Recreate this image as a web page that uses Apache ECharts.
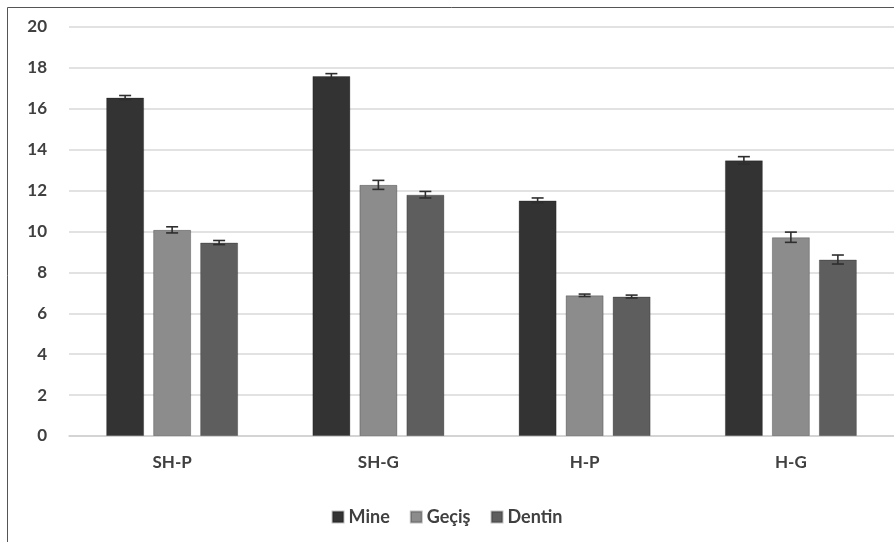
<!DOCTYPE html>
<html><head><meta charset="utf-8">
<script src="https://cdn.jsdelivr.net/npm/echarts@6/dist/echarts.min.js"></script>
<style>html,body{margin:0;padding:0;background:#fff}#c{width:894px;height:542px}</style>
</head><body><div id="c"></div>
<script>
const categories = ['SH-P', 'SH-G', 'H-P', 'H-G'];
const seriesNames = ['Mine', 'Geçiş', 'Dentin'];
const mineValues = [16.55, 17.6, 11.52, 13.48];
const gecisValues = [10.08, 12.28, 6.88, 9.72];
const dentinValues = [9.46, 11.8, 6.82, 8.63];
const mineErrors = [0.1, 0.12, 0.12, 0.18];
const gecisErrors = [0.15, 0.22, 0.06, 0.25];
const dentinErrors = [0.1, 0.16, 0.07, 0.22];
const yTicks = [0, 2, 4, 6, 8, 10, 12, 14, 16, 18, 20];

const colors = ['#333333', '#8c8c8c', '#5e5e5e'];
const values = [mineValues, gecisValues, dentinValues];
const errors = [mineErrors, gecisErrors, dentinErrors];
const BAR_W = 38, GAP = 9;
const fontFamily = "Lato, 'Open Sans', sans-serif";

const chart = echarts.init(document.getElementById('c'), null, {renderer: 'canvas'});
const series = [];
seriesNames.forEach((name, i) => {
  series.push({
    name: name, type: 'bar', data: values[i], barWidth: BAR_W, barGap: (GAP / BAR_W * 100) + '%',
    itemStyle: {color: colors[i], borderColor: 'rgba(0,0,0,0.25)', borderWidth: 1},
    z: 2
  });
});
seriesNames.forEach((name, i) => {
  series.push({
    type: 'custom', name: name + ' err',
    data: values[i].map((v, k) => [k, v - errors[i][k], v + errors[i][k]]),
    z: 5, silent: true,
    renderItem: function (params, api) {
      const x = api.value(0);
      const lo = api.coord([x, api.value(1)]);
      const hi = api.coord([x, api.value(2)]);
      const off = (i - 1) * (BAR_W + GAP);
      const cx = lo[0] + off;
      const hw = 6;
      const st = {stroke: '#2e2e2e', lineWidth: 1.6};
      return {type: 'group', children: [
        {type: 'line', shape: {x1: cx, y1: hi[1], x2: cx, y2: lo[1]}, style: st},
        {type: 'line', shape: {x1: cx - hw, y1: hi[1], x2: cx + hw, y2: hi[1]}, style: st},
        {type: 'line', shape: {x1: cx - hw, y1: lo[1], x2: cx + hw, y2: lo[1]}, style: st}
      ]};
    }
  });
});

chart.setOption({
  animation: false,
  backgroundColor: '#fff',
  grid: {left: 69, right: -7, top: 27, bottom: 106, containLabel: false},
  legend: {
    data: seriesNames, bottom: 11, left: 'center', itemWidth: 11, itemHeight: 11, itemGap: 20,
    icon: 'rect', textStyle: {fontFamily: fontFamily, fontSize: 18, fontWeight: 'bold', color: '#404040'}
  },
  xAxis: {
    type: 'category', data: categories,
    axisLine: {lineStyle: {color: '#d0d0d0', width: 1.5}},
    axisTick: {show: false},
    axisLabel: {fontFamily: fontFamily, fontSize: 17, fontWeight: 'bold', color: '#404040', margin: 18}
  },
  yAxis: {
    type: 'value', min: yTicks[0], max: yTicks[yTicks.length - 1], interval: yTicks[1] - yTicks[0],
    axisLine: {show: false}, axisTick: {show: false},
    axisLabel: {fontFamily: fontFamily, fontSize: 17, fontWeight: 'bold', color: '#404040', margin: 22},
    splitLine: {lineStyle: {color: '#d9d9d9', width: 1.5}}
  },
  graphic: [{
    type: 'rect', silent: true, z: 100,
    shape: {x: 7.5, y: 7.5, width: 1000, height: 1000},
    style: {fill: 'none', stroke: '#555', lineWidth: 1}
  }],
  series: series
});
</script></body></html>
